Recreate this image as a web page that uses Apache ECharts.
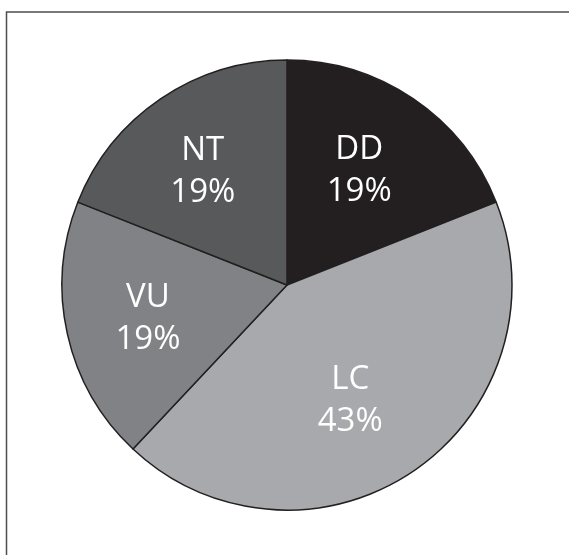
<!DOCTYPE html>
<html>
<head>
<meta charset="utf-8">
<script src="https://cdn.jsdelivr.net/npm/echarts@6/dist/echarts.min.js"></script>
<style>
html,body{margin:0;padding:0;background:#fff;}
#chart{width:569px;height:555px;}
</style>
</head>
<body>
<div id="chart"></div>
<script>
const categories = ['DD', 'LC', 'VU', 'NT'];
const values = [19, 43, 19, 19];
const colors = ['#231f20', '#a7a9ac', '#808285', '#58595b'];
// small label nudges (style only)
const labelNudges = {DD: [-9, 5], LC: [-18, -4], VU: [2, 2], NT: [-3, 6]};

const chart = echarts.init(document.getElementById('chart'), null, {renderer: 'canvas'});
const data = categories.map((c, i) => ({name: c, value: values[i], itemStyle: {color: colors[i]}}));
const labelData = categories.map((c, i) => ({
  name: c, value: values[i],
  label: {offset: labelNudges[c]}
}));

chart.setOption({
  animation: false,
  backgroundColor: '#ffffff',
  graphic: [{
    type: 'rect',
    shape: {x: 6.5, y: 12, width: 700, height: 700},
    style: {fill: 'none', stroke: '#4d4d4f', lineWidth: 1.5},
    silent: true
  }],
  series: [{
    type: 'pie',
    center: [287, 285],
    radius: [0, 225],
    startAngle: 90,
    clockwise: true,
    data: data,
    label: {show: false},
    labelLine: {show: false},
    itemStyle: {borderColor: '#231f20', borderWidth: 1.5},
    emphasis: {disabled: true}
  }, {
    type: 'pie',
    center: [287, 285],
    radius: [58, 225],
    startAngle: 90,
    clockwise: true,
    data: labelData,
    itemStyle: {color: 'rgba(0,0,0,0)', borderWidth: 0},
    label: {
      show: true,
      position: 'inside',
      formatter: '{b}\n{d}%',
      color: '#ffffff',
      fontFamily: 'Open Sans',
      fontSize: 33,
      lineHeight: 42
    },
    labelLine: {show: false},
    emphasis: {disabled: true},
    silent: true
  }]
});
</script>
</body>
</html>
